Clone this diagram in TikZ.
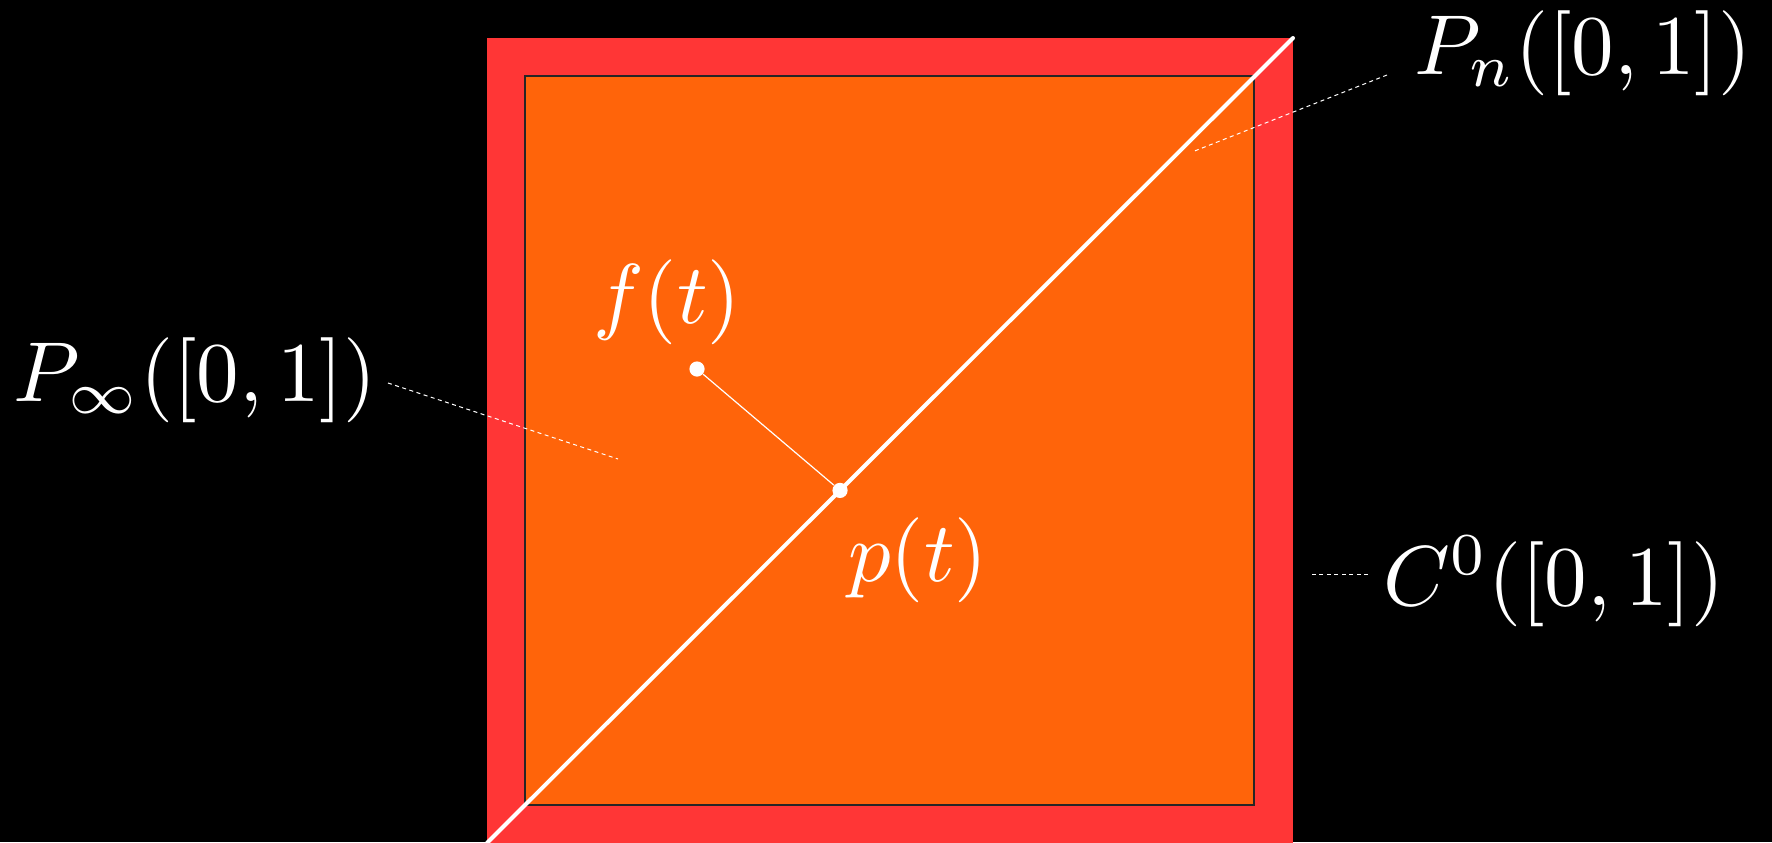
\documentclass[tikz,border=0pt]{standalone}
\usetikzlibrary{calc}
\definecolor{redc}{RGB}{255,54,54}
\definecolor{orangec}{RGB}{255,100,10}
\tikzset{
  lbl/.style={text=white, inner sep=0pt, anchor=base, font=\normalsize, scale=4.25},
  dotc/.style={circle, fill=white, inner sep=0pt, minimum size=7.6pt},
  leader/.style={draw=white!80, line width=0.5pt, dash pattern=on 2pt off 1.75pt},
  diag/.style={draw=white, line width=2pt},
  link/.style={draw=white, line width=0.6pt}
}
\begin{document}
\begin{tikzpicture}[x=0.5pt, y=-0.5pt]
\useasboundingbox (0,0) rectangle (1772,842);
\fill[black] (0,0) rectangle (1772,842);
% outer C^0 square
\fill[redc] (487,38) rectangle (1293,846);
% inner P_infty square
\filldraw[fill=orangec, draw=black!85, line width=0.6pt] (525,76) rectangle (1254,805);
% diagonal P_n
\coordinate (bl) at (487,843);
\coordinate (tr) at (1293,38);
\draw[diag, line cap=round] (bl) -- (tr);
% points
\node[dotc] (fdot) at (697,369) {};
\node[dotc] (pdot) at ($(bl)!0.438!(tr)$) {};
\draw[link] (fdot) -- (pdot);
% labels
\node[lbl] (flab) at (667,323) {$f(t)$};
\node[lbl] (plab) at (918,581) {$p(t)$};
\node[lbl] (pinf) at (195,401) {$P_\infty([0,1])$};
\node[lbl] (pn) at (1583,74) {$P_n([0,1])$};
\node[lbl] (c0) at (1554,605) {$C^0([0,1])$};
% leaders
\coordinate (pinfA) at (388,383);
\coordinate (pinfB) at (618,459);
\draw[leader] (pinfA) -- (pinfB);
\coordinate (pnA) at (1387,75);
\coordinate (pnB) at (1192,152);
\draw[leader] (pnA) -- (pnB);
\coordinate (c0A) at (1368,574);
\coordinate (c0B) at (1311,574);
\draw[leader] (c0A) -- (c0B);
\end{tikzpicture}
\end{document}
